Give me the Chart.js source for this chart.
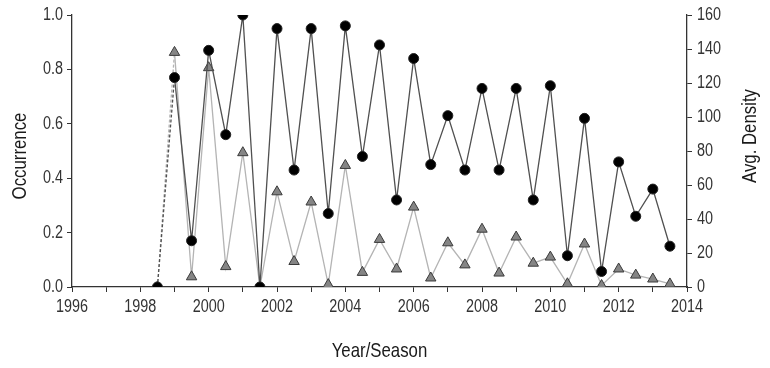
<!DOCTYPE html>
<html lang="en">
<head>
    <meta charset="UTF-8">
    <title>Occurrence and Avg. Density</title>
    <script src="https://cdn.jsdelivr.net/npm/chart.js"></script>
    <style>
        html, body { margin: 0; padding: 0; background: #fff; }
        #wrap { width: 770px; height: 368px; }
    </style>
</head>
<body>
    <div id="wrap"><canvas id="chart" width="770" height="368"></canvas></div>

    <script>
        // year/season (half-year steps)
        const seasons = [1998.5, 1999, 1999.5, 2000, 2000.5, 2001, 2001.5, 2002, 2002.5, 2003, 2003.5,
                         2004, 2004.5, 2005, 2005.5, 2006, 2006.5, 2007, 2007.5, 2008, 2008.5,
                         2009, 2009.5, 2010, 2010.5, 2011, 2011.5, 2012, 2012.5, 2013, 2013.5];
        // left axis
        const occurrence = [0, 0.77, 0.17, 0.87, 0.56, 1.0, 0, 0.95, 0.43, 0.95, 0.27,
                            0.96, 0.48, 0.89, 0.32, 0.84, 0.45, 0.63, 0.43, 0.73, 0.43,
                            0.73, 0.32, 0.74, 0.115, 0.62, 0.057, 0.46, 0.26, 0.36, 0.15];
        // right axis
        const density = [0, 138, 6, 129, 12, 79, 0, 56, 15, 50, 1.4,
                         71.5, 8.6, 28, 10.6, 47, 5.3, 26, 13, 34, 8.2,
                         29.4, 14, 17.6, 1.9, 25.3, 0.9, 10.6, 7, 4.7, 1.8];
        const xTicks = [1996, 1998, 2000, 2002, 2004, 2006, 2008, 2010, 2012, 2014];
        const leftTicks = [0, 0.2, 0.4, 0.6, 0.8, 1.0];
        const rightTicks = [0, 20, 40, 60, 80, 100, 120, 140, 160];

        const FONT = '"Liberation Sans", Arial, sans-serif';
        const INK = '#333';
        const SQUEEZE = 0.8;   // narrow-looking text, no narrow font installed

        const dashFirst = { borderDash: ctx => ctx.p0DataIndex === 0 ? [3, 2] : undefined };

        function narrowText(ctx, text, x, y, size, align, rot) {
            ctx.save();
            ctx.font = size + 'px ' + FONT;
            ctx.textAlign = align;
            ctx.textBaseline = 'middle';
            ctx.translate(x, y);
            if (rot) ctx.rotate(rot);
            ctx.scale(SQUEEZE, 1);
            ctx.fillText(text, 0, 0);
            ctx.restore();
        }

        // tick labels and axis titles, squeezed like the original narrow face
        const labels = {
            id: 'labels',
            afterDraw(chart) {
                const { ctx, chartArea: a, scales } = chart;
                ctx.save();
                ctx.fillStyle = INK;
                xTicks.forEach(v => narrowText(ctx, String(v), scales.x.getPixelForValue(v), a.bottom + 20, 18, 'center'));
                leftTicks.forEach(v => narrowText(ctx, v.toFixed(1), a.left - 9, scales.y.getPixelForValue(v), 18, 'right'));
                rightTicks.forEach(v => narrowText(ctx, String(v), a.right + 10, scales.y2.getPixelForValue(v), 18, 'left'));
                ctx.fillStyle = '#1a1a1a';
                narrowText(ctx, 'Year/Season', (a.left + a.right) / 2, 351, 21, 'center');
                narrowText(ctx, 'Occurrence', 20, 156, 21, 'center', -Math.PI / 2);
                narrowText(ctx, 'Avg. Density', 750, 136, 21, 'center', -Math.PI / 2);
                ctx.restore();
            }
        };

        const axis = (extra) => Object.assign({
            grid: { drawOnChartArea: false, drawTicks: true, tickLength: 5, color: INK },
            border: { display: true, color: INK, width: 1.3 },
            ticks: { display: false }
        }, extra);

        new Chart(document.getElementById('chart'), {
            type: 'line',
            data: {
                datasets: [
                    {
                        label: 'Occurrence',
                        data: seasons.map((s, i) => ({ x: s, y: occurrence[i] })),
                        yAxisID: 'y',
                        borderColor: '#505050',
                        borderWidth: 1.3,
                        pointStyle: 'circle',
                        pointRadius: 5,
                        pointBackgroundColor: '#000',
                        pointBorderColor: '#222',
                        pointBorderWidth: 1,
                        segment: dashFirst,
                        order: 1
                    },
                    {
                        label: 'Avg. Density',
                        data: seasons.map((s, i) => ({ x: s, y: density[i] })),
                        yAxisID: 'y2',
                        borderColor: '#b4b4b4',
                        borderWidth: 1.3,
                        pointStyle: 'triangle',
                        pointRadius: 6,
                        pointBackgroundColor: '#858585',
                        pointBorderColor: '#3a3a3a',
                        pointBorderWidth: 1,
                        segment: dashFirst,
                        order: 2
                    }
                ]
            },
            options: {
                responsive: false,
                animation: false,
                events: [],
                layout: { padding: { top: 15, left: 0, right: 0, bottom: 0 } },
                plugins: { legend: { display: false }, tooltip: { enabled: false } },
                scales: {
                    x: axis({
                        type: 'linear',
                        min: 1996,
                        max: 2014,
                        afterFit: s => { s.height = 81; },
                        afterBuildTicks: s => {
                            const t = [];
                            for (let v = 1996; v <= 2014; v++) t.push({ value: v });
                            s.ticks = t;
                        }
                    }),
                    y: axis({
                        position: 'left',
                        min: 0,
                        max: 1,
                        afterFit: s => { s.width = 72; },
                        afterBuildTicks: s => { s.ticks = leftTicks.map(v => ({ value: v })); }
                    }),
                    y2: axis({
                        position: 'right',
                        min: 0,
                        max: 160,
                        afterFit: s => { s.width = 83; },
                        afterBuildTicks: s => { s.ticks = rightTicks.map(v => ({ value: v })); }
                    })
                }
            },
            plugins: [labels]
        });
    </script>
</body>
</html>
